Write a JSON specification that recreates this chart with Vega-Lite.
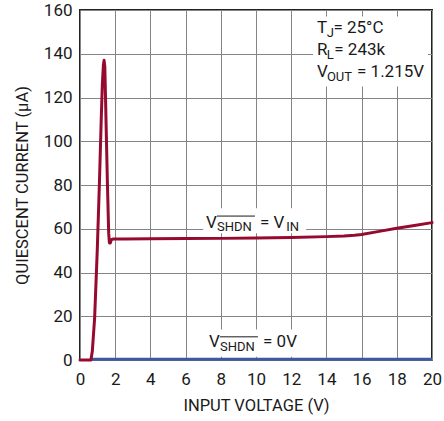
{
  "$schema": "https://vega.github.io/schema/vega-lite/v6.json",
  "width": 352,
  "height": 350,
  "autosize": "none",
  "padding": {"left": 80, "top": 10, "right": 12, "bottom": 61},
  "background": "white",
  "config": {
    "font": "Roboto",
    "view": {"stroke": "#222222", "strokeWidth": 2},
    "axis": {
      "grid": true,
      "gridColor": "#858585",
      "gridWidth": 1,
      "domain": false,
      "ticks": false,
      "labelOverlap": false,
      "labelFlush": false,
      "labelFont": "Roboto",
      "labelFontSize": 17,
      "labelColor": "#1a1a1a",
      "titleFont": "Roboto",
      "titleFontSize": 16.5,
      "titleFontWeight": "normal",
      "titleColor": "#1a1a1a"
    }
  },
  "datasets": {
    "vin": [
      {"x": 0, "y": 0}, {"x": 0.3, "y": 0}, {"x": 0.62, "y": 0},
      {"x": 0.7, "y": 4}, {"x": 0.83, "y": 19}, {"x": 0.98, "y": 50},
      {"x": 1.1, "y": 80}, {"x": 1.21, "y": 111}, {"x": 1.27, "y": 126},
      {"x": 1.33, "y": 135}, {"x": 1.37, "y": 137}, {"x": 1.41, "y": 134},
      {"x": 1.45, "y": 120}, {"x": 1.49, "y": 105}, {"x": 1.56, "y": 80},
      {"x": 1.63, "y": 58}, {"x": 1.67, "y": 53.5}, {"x": 1.72, "y": 53.5},
      {"x": 1.78, "y": 55}, {"x": 1.9, "y": 55.3}, {"x": 2.5, "y": 55.3},
      {"x": 4, "y": 55.4}, {"x": 6, "y": 55.5}, {"x": 8, "y": 55.6},
      {"x": 10, "y": 55.8}, {"x": 12, "y": 56}, {"x": 14, "y": 56.4},
      {"x": 15, "y": 56.7}, {"x": 15.6, "y": 57}, {"x": 16, "y": 57.4},
      {"x": 17, "y": 58.8}, {"x": 18, "y": 60.2}, {"x": 19, "y": 61.5},
      {"x": 20, "y": 62.8}
    ],
    "zero": [
      {"x": 0.62, "y": 0.4}, {"x": 20, "y": 0.4}
    ],
    "boxes": [
      {"x": 7.0, "x2": 12.85, "y": 58, "y2": 69.4},
      {"x": 7.1, "x2": 12.8, "y": 1.5, "y2": 14},
      {"x": 13.24, "x2": 19.77, "y": 125, "y2": 157}
    ],
    "main": [
      {"x": 13.47, "y": 149.5, "t": "T"},
      {"x": 14.4, "y": 149.5, "t": "= 25°C"},
      {"x": 13.47, "y": 139.4, "t": "R"},
      {"x": 14.45, "y": 139.4, "t": "= 243k"},
      {"x": 13.47, "y": 129.4, "t": "V"},
      {"x": 15.74, "y": 129.4, "t": "= 1.215V"},
      {"x": 7.16, "y": 60.3, "t": "V"},
      {"x": 10.23, "y": 60.3, "t": "= V"},
      {"x": 7.33, "y": 6.0, "t": "V"},
      {"x": 10.4, "y": 6.0, "t": "= 0V"}
    ],
    "sub": [
      {"x": 14.02, "y": 147.7, "t": "J"},
      {"x": 14.02, "y": 137.6, "t": "L"},
      {"x": 14.03, "y": 127.5, "t": "OUT"},
      {"x": 7.78, "y": 58.9, "t": "SHDN"},
      {"x": 11.72, "y": 58.9, "t": "IN"},
      {"x": 7.95, "y": 4.2, "t": "SHDN"}
    ],
    "over": [
      {"x": 7.78, "x2": 9.94, "y": 65.8},
      {"x": 7.95, "x2": 10.11, "y": 10.6}
    ]
  },
  "encoding": {
    "x": {"field": "x", "type": "quantitative",
          "scale": {"domain": [0, 20], "nice": false},
          "axis": {"values": [0, 2, 4, 6, 8, 10, 12, 14, 16, 18, 20], "tickCount": 11, "labelOverlap": false, "labelFlush": false, "title": "INPUT VOLTAGE (V)", "labelPadding": 11, "titlePadding": 10}},
    "y": {"field": "y", "type": "quantitative",
          "scale": {"domain": [0, 160], "nice": false},
          "axis": {"values": [0, 20, 40, 60, 80, 100, 120, 140, 160], "tickCount": 9, "labelOverlap": false, "labelFlush": false, "title": "QUIESCENT CURRENT (µA)", "labelPadding": 8, "titlePadding": 13}}
  },
  "layer": [
    {
      "data": {"name": "boxes"},
      "mark": {"type": "rect", "fill": "white", "stroke": null},
      "encoding": {
        "x2": {"field": "x2"},
        "y2": {"field": "y2"}
      }
    },
    {
      "data": {"name": "zero"},
      "mark": {"type": "line", "color": "#3d5a9e", "strokeWidth": 3}
    },
    {
      "data": {"name": "vin"},
      "mark": {"type": "line", "color": "#970a2f", "strokeWidth": 3, "strokeJoin": "round", "strokeCap": "round"}
    },
    {
      "data": {"name": "main"},
      "mark": {"type": "text", "align": "left", "baseline": "alphabetic", "fontSize": 17, "color": "#1a1a1a"},
      "encoding": {"text": {"field": "t"}}
    },
    {
      "data": {"name": "sub"},
      "mark": {"type": "text", "align": "left", "baseline": "alphabetic", "fontSize": 13, "color": "#1a1a1a"},
      "encoding": {"text": {"field": "t"}}
    },
    {
      "data": {"name": "over"},
      "mark": {"type": "rule", "color": "#1a1a1a", "strokeWidth": 1},
      "encoding": {"x2": {"field": "x2"}}
    }
  ]
}
